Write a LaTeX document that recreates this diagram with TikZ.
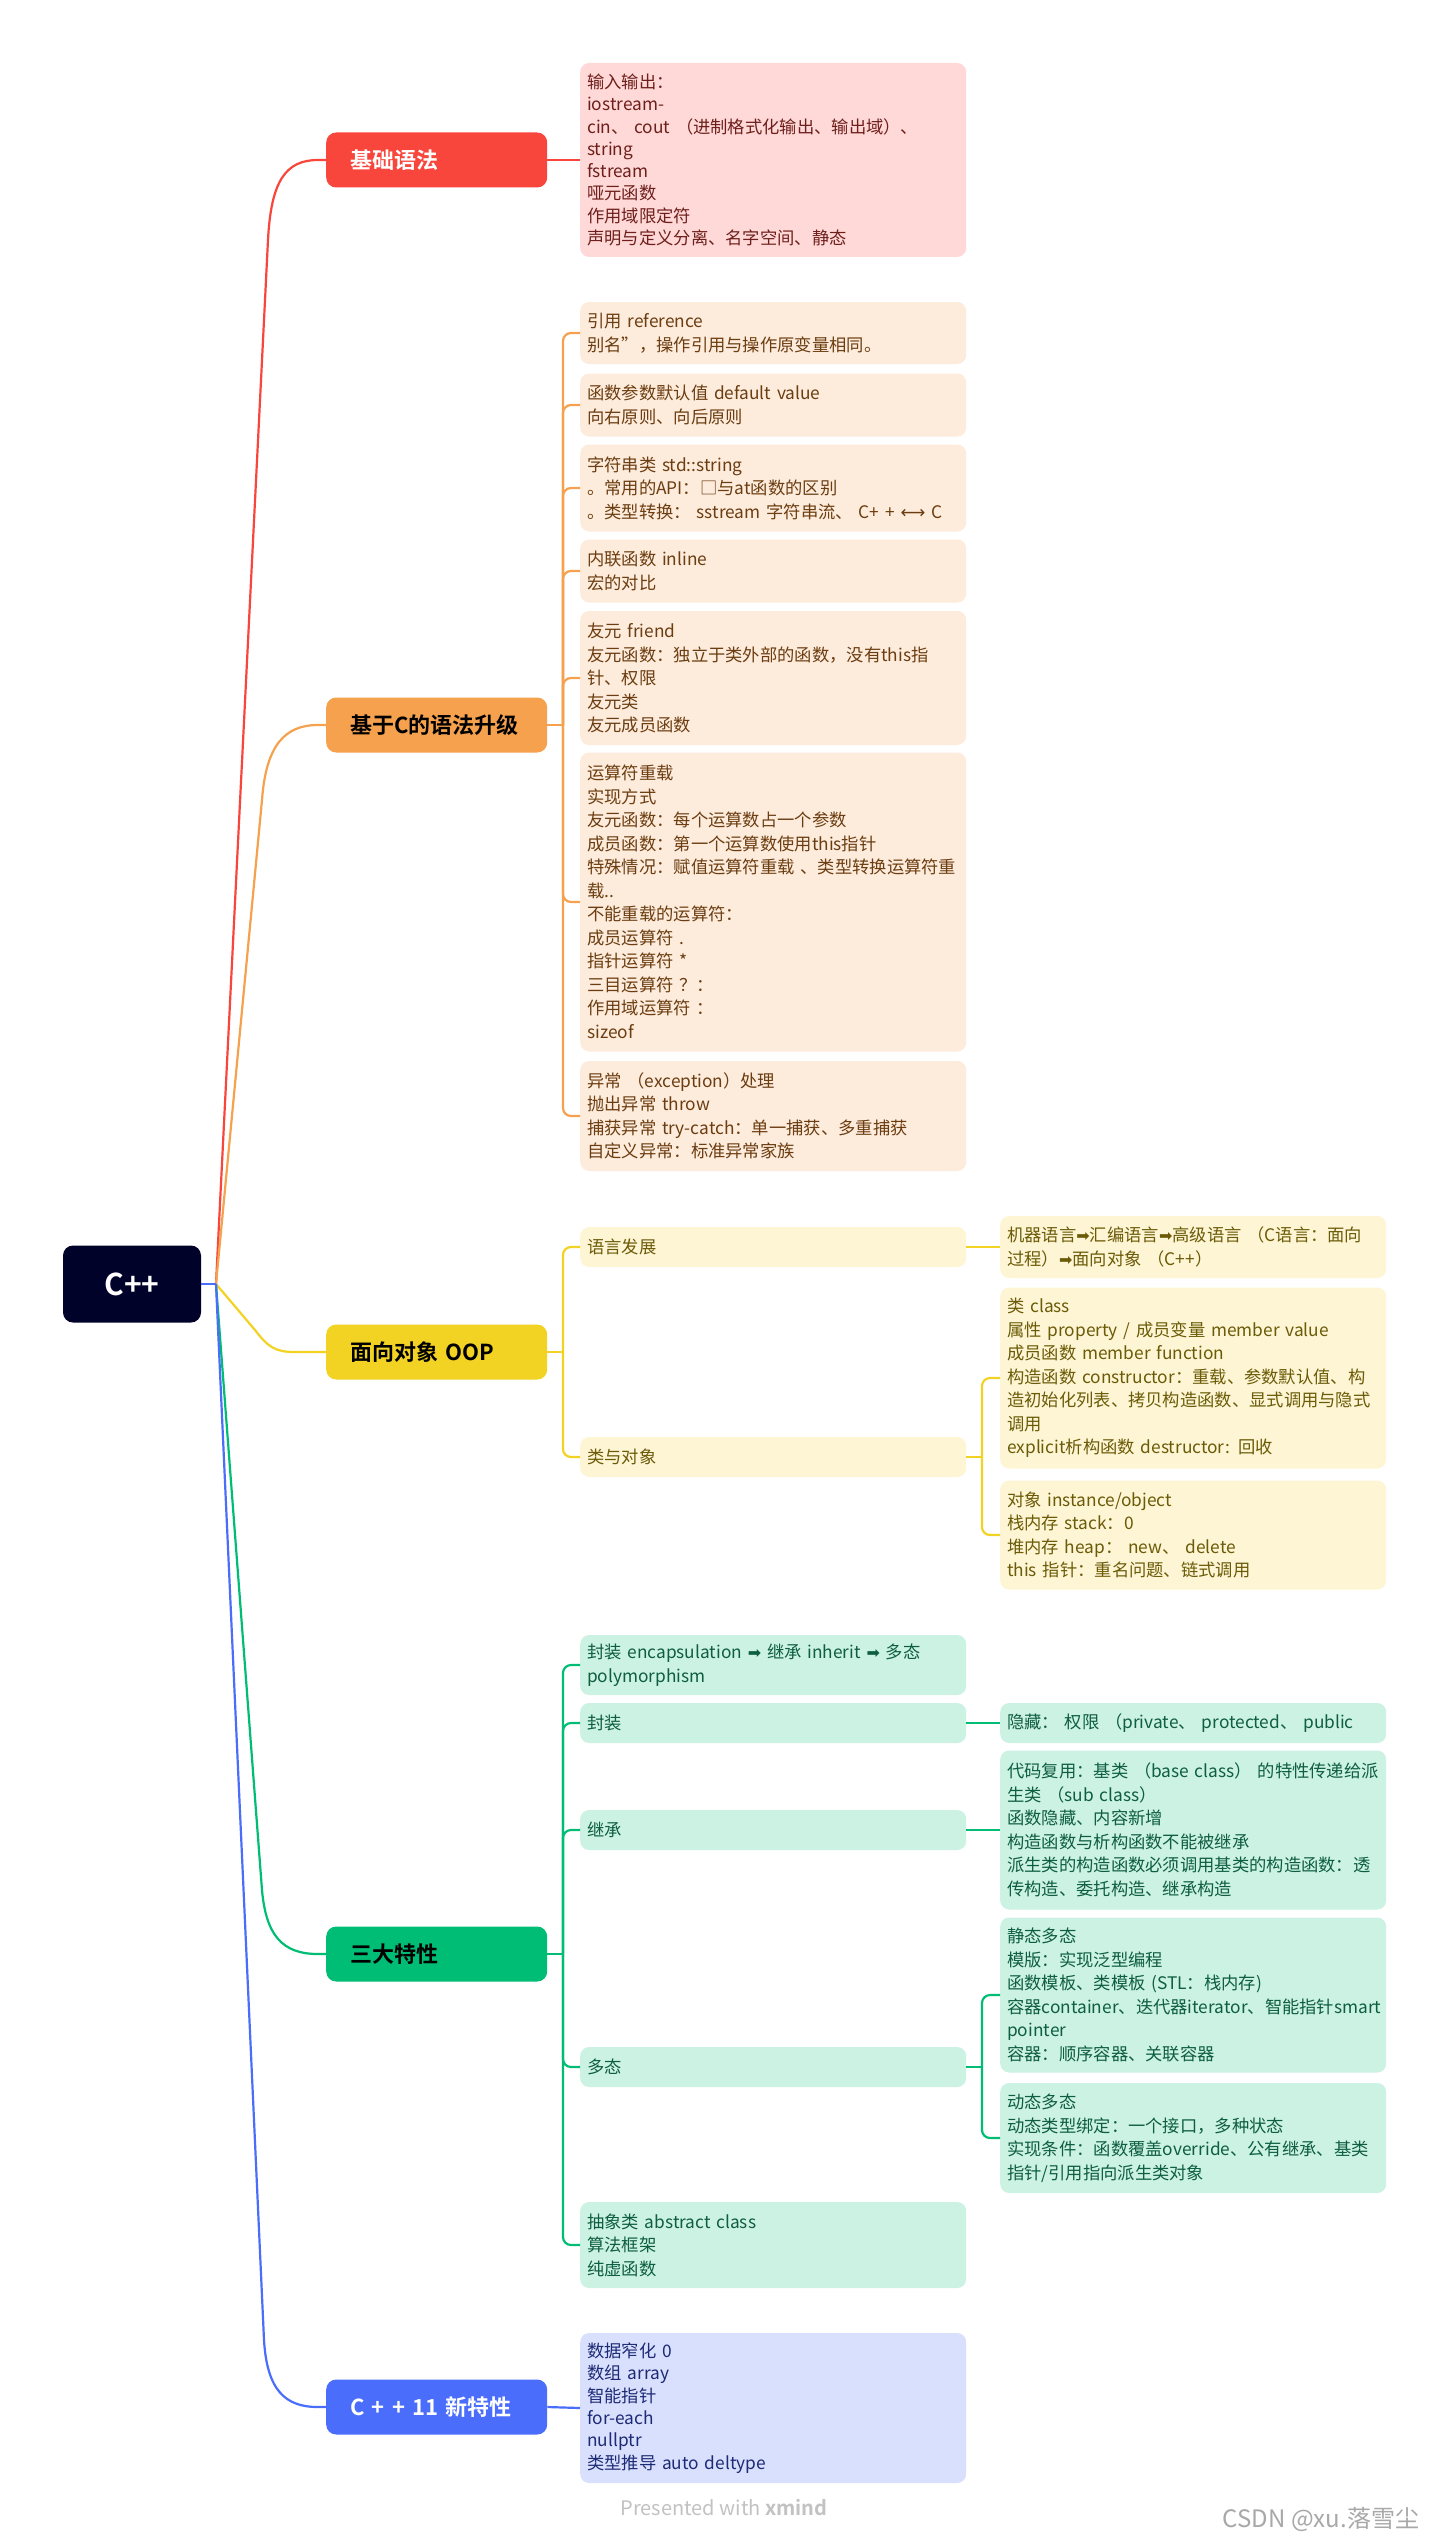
\documentclass[tikz,border=0pt]{standalone}
\usepackage{fontspec}
\setmainfont{Noto Sans CJK SC}[BoldFont={Noto Sans CJK SC Bold}]
\newfontfamily\dejavu{DejaVu Sans}
\newcommand\myarr{{\dejavu\fontsize{16}{16}\selectfont ➡}}
\newcommand\mylr{{\dejavu ⟷}}
\definecolor{rootc}{HTML}{000229}
\definecolor{redm}{HTML}{F9463D}
\definecolor{redl}{HTML}{FFD9D8}
\definecolor{redt}{HTML}{6E1F1B}
\definecolor{orgm}{HTML}{F5A14E}
\definecolor{orgl}{HTML}{FDEBDC}
\definecolor{orgt}{HTML}{6B3D10}
\definecolor{yelm}{HTML}{F2D323}
\definecolor{yell}{HTML}{FDF5D3}
\definecolor{yelt}{HTML}{6B5B08}
\definecolor{grnm}{HTML}{00BD76}
\definecolor{grnl}{HTML}{CCF2E3}
\definecolor{grnt}{HTML}{0E5E40}
\definecolor{blum}{HTML}{4A6DFB}
\definecolor{blul}{HTML}{D9E0FD}
\definecolor{blut}{HTML}{1D2A75}
\definecolor{footc}{HTML}{C2C2C2}
\definecolor{wmc}{HTML}{A8A8A8}
\tikzset{
  every node/.style={font=\fontsize{17.3}{23.5}\selectfont},
  sub/.style={rounded corners=9pt, minimum width=386pt, text width=372pt, inner xsep=7pt, inner ysep=3pt, align=left, anchor=west},
  mainbox/.style={rounded corners=10pt, minimum width=221pt, minimum height=55pt, text width=173pt, inner xsep=24pt, align=left, anchor=west, font=\fontsize{22}{26}\selectfont\bfseries},
  conn/.style={line width=2.2pt},
  branch/.style={line width=2.2pt, rounded corners=8pt},
}
\begin{document}
\begin{tikzpicture}[x=1pt,y=-1pt]
\useasboundingbox[fill=white] (0,0) rectangle (1450,2547);

% root
\node[fill=rootc, rounded corners=10pt, minimum width=138pt, minimum height=77pt, text=white, font=\fontsize{30}{34}\selectfont\bfseries] (root) at (132,1284) {C++};

% main nodes
\node[mainbox, fill=redm, text=white] (n1) at (326,160) {基础语法};
\node[mainbox, fill=orgm, text=black] (n2) at (326,725) {基于C的语法升级};
\node[mainbox, fill=yelm, text=black] (n3) at (326,1352) {面向对象 OOP};
\node[mainbox, fill=grnm, text=black] (n4) at (326,1954) {三大特性};
\node[mainbox, fill=blum, text=white] (n5) at (326,2407) {C + + 11 新特性};

% section 1
\node[sub, fill=redl, text=redt, minimum height=194pt, font=\fontsize{17.3}{22.3}\selectfont] (c11) at (580,160) {输入输出：\\iostream-\\cin、 cout （进制格式化输出、输出域）、\\string\\fstream\\哑元函数\\作用域限定符\\声明与定义分离、名字空间、静态};

% section 2
\node[sub, fill=orgl, text=orgt, minimum height=62pt] (c21) at (580,333) {引用 reference\\别名”，操作引用与操作原变量相同。};
\node[sub, fill=orgl, text=orgt, minimum height=63pt] (c22) at (580,405) {函数参数默认值 default value\\向右原则、向后原则};
\node[sub, fill=orgl, text=orgt, minimum height=87pt] (c23) at (580,488) {字符串类 std::string\\。常用的API：□与at函数的区别\\。类型转换： sstream 字符串流、 C+ + \mylr\ C};
\node[sub, fill=orgl, text=orgt, minimum height=63pt] (c24) at (580,571) {内联函数 inline\\宏的对比};
\node[sub, fill=orgl, text=orgt, minimum height=134pt] (c25) at (580,678) {友元 friend\\友元函数：独立于类外部的函数，没有this指\\针、权限\\友元类\\友元成员函数};
\node[sub, fill=orgl, text=orgt, minimum height=299pt] (c26) at (580,902) {运算符重载\\实现方式\\友元函数：每个运算数占一个参数\\成员函数：第一个运算数使用this指针\\特殊情况：赋值运算符重载 、类型转换运算符重\\载..\\不能重载的运算符：\\成员运算符 .\\指针运算符 *\\三目运算符 ？：\\作用域运算符 ：\\sizeof};
\node[sub, fill=orgl, text=orgt, minimum height=110pt] (c27) at (580,1116) {异常 （exception）处理\\抛出异常 throw\\捕获异常 try-catch：单一捕获、多重捕获\\自定义异常：标准异常家族};

% section 3
\node[sub, fill=yell, text=yelt, minimum height=40pt] (c31) at (580,1247) {语言发展};
\node[sub, fill=yell, text=yelt, minimum height=40pt] (c32) at (580,1457) {类与对象};
\node[sub, fill=yell, text=yelt, minimum height=62pt] (g311) at (1000,1247) {机器语言\myarr 汇编语言\myarr 高级语言 （C语言：面向\\过程）\myarr 面向对象 （C++）};
\node[sub, fill=yell, text=yelt, minimum height=181pt] (g321) at (1000,1378) {类 class\\属性 property / 成员变量 member value\\成员函数 member function\\构造函数 constructor：重载、参数默认值、构\\造初始化列表、拷贝构造函数、显式调用与隐式\\调用\\explicit析构函数 destructor: 回收};
\node[sub, fill=yell, text=yelt, minimum height=109pt] (g322) at (1000,1535) {对象 instance/object\\栈内存 stack：0\\堆内存 heap： new、 delete\\this 指针：重名问题、链式调用};

% section 4
\node[sub, fill=grnl, text=grnt, minimum height=60pt] (c41) at (580,1665) {封装 encapsulation \myarr\ 继承 inherit \myarr\ 多态\\polymorphism};
\node[sub, fill=grnl, text=grnt, minimum height=40pt] (c42) at (580,1723) {封装};
\node[sub, fill=grnl, text=grnt, minimum height=40pt] (c43) at (580,1830) {继承};
\node[sub, fill=grnl, text=grnt, minimum height=40pt] (c44) at (580,2067) {多态};
\node[sub, fill=grnl, text=grnt, minimum height=86pt] (c45) at (580,2245) {抽象类 abstract class\\算法框架\\纯虚函数};
\node[sub, fill=grnl, text=grnt, minimum height=40pt] (g421) at (1000,1723) {隐藏： 权限 （private、 protected、 public};
\node[sub, fill=grnl, text=grnt, minimum height=159pt] (g431) at (1000,1830) {代码复用：基类 （base class） 的特性传递给派\\生类 （sub class）\\函数隐藏、内容新增\\构造函数与析构函数不能被继承\\派生类的构造函数必须调用基类的构造函数：透\\传构造、委托构造、继承构造};
\node[sub, fill=grnl, text=grnt, minimum height=155pt] (g441) at (1000,1995) {静态多态\\模版：实现泛型编程\\函数模板、类模板 (STL：栈内存)\\容器container、迭代器iterator、智能指针smart\\pointer\\容器：顺序容器、关联容器};
\node[sub, fill=grnl, text=grnt, minimum height=110pt] (g442) at (1000,2138) {动态多态\\动态类型绑定：一个接口，多种状态\\实现条件：函数覆盖override、公有继承、基类\\指针/引用指向派生类对象};

% section 5
\node[sub, fill=blul, text=blut, minimum height=150pt, font=\fontsize{17.3}{22.3}\selectfont] (c51) at (580,2408) {数据窄化 0\\数组 array\\智能指针\\for-each\\nullptr\\类型推导 auto deltype};

% footer
\node[text=footc, font=\fontsize{20}{24}\selectfont] (foot) at (724,2507) {Presented with \textbf{xmind}};
\node[text=wmc, font=\fontsize{24}{28}\selectfont] (wm) at (1321,2519) {CSDN @xu.落雪尘};

% root connectors
\coordinate (o) at (216,1284);
\draw[conn, redm] (o) -- (268,240) .. controls (271,182) and (285,160) .. (318,160) -- (n1.west);
\draw[conn, orgm] (o) -- (262,800) .. controls (266,745) and (285,725) .. (318,725) -- (n2.west);
\draw[conn, yelm] (o) -- (255,1330) .. controls (268,1347) and (275,1352) .. (295,1352) -- (n3.west);
\draw[conn, grnm] (o) -- (262,1890) .. controls (266,1935) and (282,1954) .. (318,1954) -- (n4.west);
\draw[conn, blum] (o) -- (264,2340) .. controls (267,2390) and (285,2407) .. (318,2407) -- (n5.west);
\draw[conn, blum] (root.east) -- (o);

% section 1 connectors
\draw[conn, redm] (n1.east) -- (c11.west);

% section 2 connectors
\coordinate (j2) at (563,725);
\draw[conn, orgm] (n2.east) -- (j2);
\foreach \c in {c21,c22,c23,c24,c25,c26,c27}
  \draw[branch, orgm] (j2) |- (\c.west);

% section 3 connectors
\coordinate (j3) at (563,1352);
\draw[conn, yelm] (n3.east) -- (j3);
\foreach \c in {c31,c32}
  \draw[branch, yelm] (j3) |- (\c.west);
\draw[conn, yelm] (c31.east) -- (g311.west);
\coordinate (j32) at (982,1457);
\draw[conn, yelm] (c32.east) -- (j32);
\foreach \c in {g321,g322}
  \draw[branch, yelm] (j32) |- (\c.west);

% section 4 connectors
\coordinate (j4) at (563,1954);
\draw[conn, grnm] (n4.east) -- (j4);
\foreach \c in {c41,c42,c43,c44,c45}
  \draw[branch, grnm] (j4) |- (\c.west);
\draw[conn, grnm] (c42.east) -- (g421.west);
\draw[conn, grnm] (c43.east) -- (g431.west);
\coordinate (j44) at (982,2067);
\draw[conn, grnm] (c44.east) -- (j44);
\foreach \c in {g441,g442}
  \draw[branch, grnm] (j44) |- (\c.west);

% section 5 connectors
\draw[conn, blum] (n5.east) -- (c51.west);
\end{tikzpicture}
\end{document}
